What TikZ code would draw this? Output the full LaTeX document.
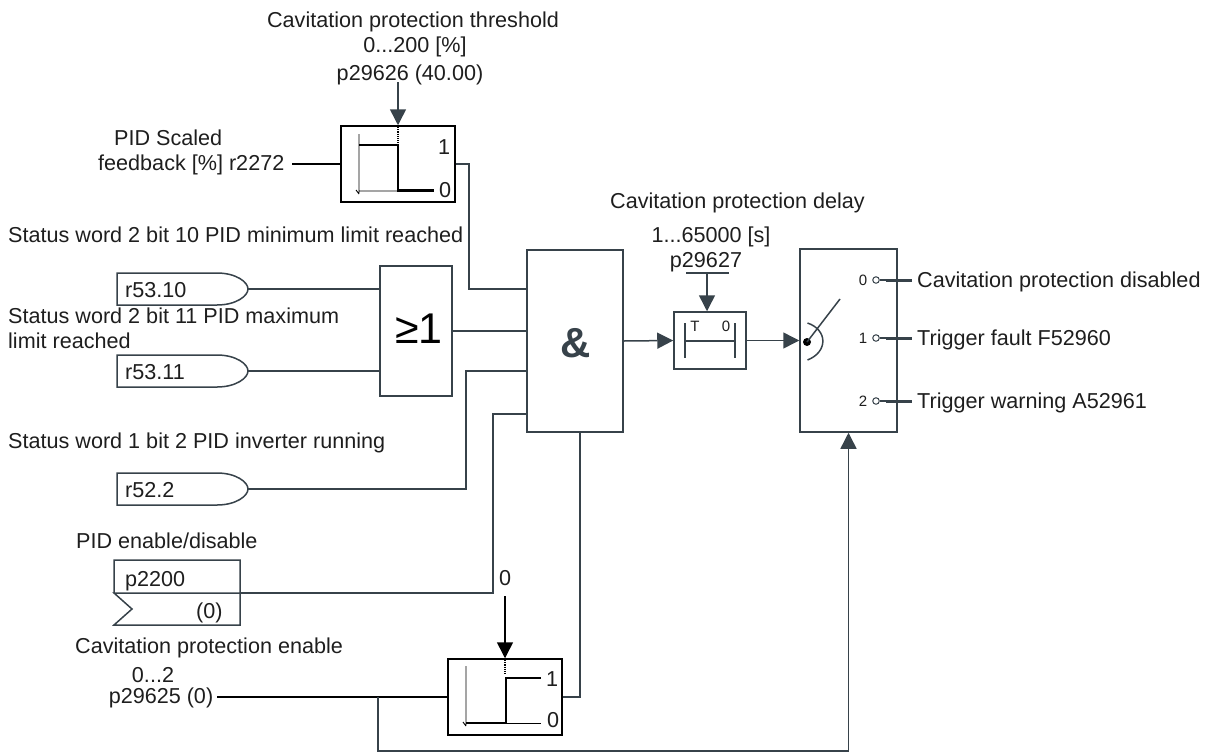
\documentclass[tikz,border=0pt]{standalone}
\usepackage{fontspec}
\setmainfont{Liberation Sans}
\usepackage{xcolor}
\definecolor{wiregray}{RGB}{55,66,74}
\definecolor{textblack}{RGB}{30,30,30}
\usepackage{tikz}
\usetikzlibrary{arrows.meta, positioning}
\tikzset{
  lab/.style={font=\fontsize{21.6}{24}\selectfont, text=textblack, inner sep=0pt, anchor=base west},
  labc/.style={lab, anchor=base},
  tiny lab/.style={font=\fontsize{15}{17}\selectfont, text=textblack, inner sep=0pt, anchor=base},
  wire/.style={draw=wiregray, line width=1.5pt},
  blackwire/.style={draw=black, line width=1.5pt},
  tip/.style={-{Triangle[length=16pt,width=16pt]}},
  block/.style={draw=wiregray, line width=1.5pt, fill=white, inner sep=0pt},
  stepline/.style={draw=black, line width=2.3pt},
  axisline/.style={draw=black, line width=0.9pt},
  contact/.style={circle, draw=wiregray, line width=1pt, fill=white, minimum size=6.5pt, inner sep=0pt}
}
\begin{document}
\begin{tikzpicture}[x=1pt, y=-1pt]
\useasboundingbox (0,0) rectangle (1210,753);
% blocks
\node[block, draw=black, minimum width=114pt, minimum height=76pt] (thresh) at (398,164) {};
\node[block, draw=black, minimum width=114pt, minimum height=76pt] (enable) at (505,697) {};
\node[block, minimum width=72pt, minimum height=130pt] (orgate) at (416,331) {};
\node[block, minimum width=96pt, minimum height=182pt] (andgate) at (575,341) {};
\node[block, minimum width=72pt, minimum height=57pt] (delay) at (710,340.5) {};
\node[block, minimum width=97pt, minimum height=183pt] (switch) at (848.5,340.5) {};
\node[labc, font=\fontsize{43}{46}\selectfont, text=black] (orlab) at (419,343) {≥1};
\node[labc, font=\fontsize{42}{44}\selectfont\bfseries, text=wiregray] (andlab) at (576,357) {\&};

% top threshold
\node[labc] (tha) at (413,27) {Cavitation protection threshold};
\node[labc] (thb) at (415,52) {0...200 [\%]};
\node[labc] (thc) at (410,80) {p29626 (40.00)};
\coordinate (thtop) at (398,82);
\draw[wire, tip] (thtop) -- (thresh.north);
\draw[black, line width=1.2pt, densely dotted] (398,127) -- (398,143);
\draw[axisline] (359,134) -- (359,193) (356,190) -- (359,194) (359,191) -- (398,191);
\draw[stepline] (359,145) -- (398,145) -- (398,190.5) -- (434,190.5);
\node[lab] (thone) at (438,154) {1};
\node[lab] (thzero) at (439,197) {0};
\node[lab] (fba) at (114,145) {PID Scaled};
\node[lab] (fbb) at (98,170) {feedback [\%] r2272};
\coordinate (fbin) at (292,164);
\draw[blackwire] (fbin) -- (thresh.west);

% status signals
\node[lab] (stata) at (8,242) {Status word 2 bit 10 PID minimum limit reached};
\node[lab] (statb) at (8,323) {Status word 2 bit 11 PID maximum};
\node[lab] (statc) at (8,348) {limit reached};
\node[lab] (statd) at (8,448) {Status word 1 bit 2 PID inverter running};
\foreach \sig/\lab/\y in {siga/r53.10/273, sigb/r53.11/355, sigc/r52.2/473}{
  \draw[wire, fill=white] (117,\y) -- (217,\y) .. controls (236,\y) and (248,\y+9) .. (248,\y+16) .. controls (248,\y+23) and (236,\y+32) .. (217,\y+32) -- (117,\y+32) -- cycle;
  \coordinate (\sig) at (248,\y+16);
  \node[lab] (\sig lab) at (125,\y+24) {\lab};
}
\draw[wire] (siga) -- (siga-|orgate.west);
\draw[wire] (sigb) -- (sigb-|orgate.west);

% parameter box
\node[lab] (pidlab) at (76,548) {PID enable/disable};
\draw[wire] (114,593) -- (114,560) -- (240,560) -- (240,625) -- (114,625) -- (132,609) -- (114,593) -- (240,593);
\coordinate (pidout) at (240,593);
\node[lab] (pidpar) at (125,586) {p2200};
\node[lab] (pidval) at (196,618) {(0)};

% wires into the and gate
\coordinate (andina) at (527,289);
\coordinate (andinb) at (527,371);
\coordinate (andinc) at (527,414);
\draw[wire] (thresh.east) -- (469,164) |- (andina);
\draw[wire] (orgate.east) -- (orgate.east-|andgate.west);
\draw[wire] (sigc) -- (466,489) |- (andinb);
\draw[wire] (pidout) -- (493,593) |- (andinc);
\draw[wire] (enable.east) -- (580,697) -- (580,432);

% enable block
\node[lab] (cava) at (75,653) {Cavitation protection enable};
\node[labc] (cavb) at (153,682) {0...2};
\node[labc] (cavc) at (161,703) {p29625 (0)};
\coordinate (cavin) at (217,697);
\coordinate (fork) at (378,697);
\draw[blackwire] (cavin) -- (enable.west);
\draw[wire, tip] (fork) -- (378,751) -| (switch.south);
\node[labc] (entop) at (505,585) {0};
\coordinate (entip) at (505,596);
\draw[blackwire, tip, fill=black] (entip) -- (enable.north);
\draw[black, line width=1.2pt, densely dotted] (505,660) -- (505,675);
\draw[axisline] (466,666) -- (466,725) (463,722) -- (466,726);
\draw[stepline] (466,723) -- (506,723) -- (506,678) -- (541,678);
\draw[axisline] (506,723) -- (541,723);
\node[lab] (enone) at (546,686) {1};
\node[lab] (enzero) at (547,727) {0};

% delay
\node[labc] (dela) at (737.5,208) {Cavitation protection delay};
\node[labc] (delb) at (711,242) {1...65000 [s]};
\node[labc] (delc) at (706,267) {p29627};
\coordinate (delbar) at (707,273);
\draw[wire] (686,273) -- (729,273);
\draw[wire, tip] (delbar) -- (delbar|-delay.north);
\draw[wire, tip] (andgate.east) -- (delay.west);
\draw[wire, tip] (delay.east) -- (switch.west);
\draw[wire] (685,323) -- (685,358) (735,323) -- (735,358) (685,341) -- (735,341);
\node[tiny lab] (delt) at (695,331) {T};
\node[tiny lab] (delz) at (726,331) {0};

% switch
\fill[black] (807,342) circle (4);
\draw[wire] (807,342) -- (840,299);
\draw[wire] (807.5,323) .. controls (828,330) and (828,352) .. (807.5,360);
\foreach \n/\y/\txt in {0/280/Cavitation protection disabled, 1/338/Trigger fault F52960, 2/401/Trigger warning A52961}{
  \node[contact] (c\n) at (876,\y) {};
  \node[tiny lab] (n\n) at (863,\y+5) {\n};
  \node[lab] (t\n) at (917,\y+7) {\txt};
  \coordinate (w\n) at (886,\y);
  \coordinate (e\n) at (912,\y);
  \draw[wire] (c\n.east) -- (w\n);
  \draw[wire, line width=3pt] (w\n) -- (e\n);
}
\end{tikzpicture}
\end{document}
